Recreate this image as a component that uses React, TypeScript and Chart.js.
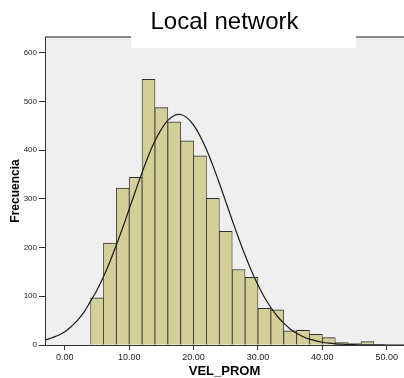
import React, { useEffect, useRef } from "react";
import { Chart, registerables } from "chart.js";

Chart.register(...registerables);

// ---- Data ----
const TITLE = "Local network";
const X_LABEL = "VEL_PROM";
const Y_LABEL = "Frecuencia";

// histogram bins (width 2), centres and counts
const BIN_CENTERS = [5, 7, 9, 11, 13, 15, 17, 19, 21, 23, 25, 27, 29, 31, 33, 35, 37, 39, 41, 43, 45, 47, 49];
const COUNTS = [97, 209, 322, 344, 545, 487, 458, 419, 388, 301, 233, 155, 139, 75, 72, 29, 30, 22, 15, 5, 3, 7, 1];

// fitted normal curve
const CURVE_X = [-3, -2, -1, 0, 1, 2, 3, 4, 5, 6, 7, 8, 9, 10, 11, 12, 13, 14, 15, 16, 17, 18, 19, 20, 21, 22, 23, 24, 25, 26, 27, 28, 29, 30, 31, 32, 33, 34, 35, 36, 37, 38, 39, 40, 41, 42, 43, 44, 45, 46, 47, 48, 49, 50, 51, 52, 53];
const CURVE_Y = [10, 15, 20, 27, 38, 51, 68, 90, 113, 140, 171, 205, 241, 279, 317, 354, 389, 419, 443, 461, 471, 473, 466, 451, 429, 401, 368, 332, 294, 256, 219, 184, 152, 123, 98, 77, 59, 45, 33, 24, 17, 12, 8.4, 5.7, 3.8, 2.5, 1.6, 1.0, 0.6, 0.4, 0.2, 0.1, 0.07, 0.04, 0.02, 0.01, 0];

const X_TICKS = [0, 10, 20, 30, 40, 50];
const Y_TICKS = [0, 100, 200, 300, 400, 500, 600];

const FONT = "'Liberation Sans', Arial, Helvetica, sans-serif";

const framePlugin = {
  id: "spssFrame",
  beforeDraw(chart: any) {
    const { ctx, chartArea: a } = chart;
    ctx.save();
    ctx.fillStyle = "#EFEFEF";
    ctx.fillRect(a.left, a.top, a.right - a.left, a.bottom - a.top);
    ctx.strokeStyle = "#8a8a8a";
    ctx.lineWidth = 2;
    ctx.beginPath();
    ctx.moveTo(a.left, a.top);
    ctx.lineTo(a.right, a.top);
    ctx.stroke();
    // white title box overlapping the plot frame
    ctx.fillStyle = "#ffffff";
    ctx.fillRect(131, 0, 225, 48);
    ctx.restore();
  },
};

export default function App() {
  const ref = useRef<HTMLCanvasElement | null>(null);

  useEffect(() => {
    if (!ref.current) return;
    Chart.defaults.font.family = FONT;
    const chart = new Chart(ref.current, {
      type: "bar",
      data: {
        datasets: [
          {
            type: "line",
            label: "Normal",
            data: CURVE_X.map((x, i) => ({ x, y: CURVE_Y[i] })),
            borderColor: "#1a1a1a",
            borderWidth: 1.2,
            pointRadius: 0,
            tension: 0.4,
            fill: false,
            order: 1,
          } as any,
          {
            type: "bar",
            label: "Frecuencia",
            data: BIN_CENTERS.map((x, i) => ({ x, y: COUNTS[i] })),
            backgroundColor: "#D4CF98",
            borderColor: "#2e2e2e",
            borderWidth: { top: 1, left: 0.8, right: 0.8, bottom: 0 },
            barPercentage: 1,
            categoryPercentage: 1,
            order: 2,
          } as any,
        ],
      },
      options: {
        responsive: false,
        animation: false,
        devicePixelRatio: 1,
        layout: { padding: 0 },
        plugins: {
          legend: { display: false },
          tooltip: { enabled: false },
          title: {
            display: true,
            text: TITLE,
            fullSize: false,
            color: "#000",
            font: { family: FONT, size: 24, weight: "normal", lineHeight: 1.2 },
            padding: { top: 7.5, bottom: 0.7 },
          },
        },
        scales: {
          x: {
            type: "linear",
            min: -3.08,
            max: 52.68,
            offset: false,
            afterBuildTicks: (s: any) => {
              s.ticks = X_TICKS.map((v) => ({ value: v }));
            },
            afterFit: (s: any) => {
              s.height = 33;
            },
            grid: { drawOnChartArea: false, offset: false, drawTicks: true, tickLength: 5, color: "#333" },
            border: { display: true, color: "#333", width: 1 },
            ticks: {
              padding: 2,
              autoSkip: false,
              maxRotation: 0,
              color: "#222",
              font: { family: FONT, size: 9 },
              callback: (v: any) => Number(v).toFixed(2),
            },
            title: {
              display: true,
              text: X_LABEL,
              color: "#000",
              font: { family: FONT, size: 13, weight: "bold", lineHeight: 1 },
              padding: { top: 0, bottom: 0 },
            },
          },
          y: {
            type: "linear",
            min: 0,
            max: 632,
            afterBuildTicks: (s: any) => {
              s.ticks = Y_TICKS.map((v) => ({ value: v }));
            },
            afterFit: (s: any) => {
              s.width = 45;
            },
            grid: { drawOnChartArea: false, drawTicks: true, tickLength: 6, color: "#333" },
            border: { display: true, color: "#333", width: 1 },
            ticks: {
              padding: 2,
              color: "#222",
              font: { family: FONT, size: 8 },
            },
            title: {
              display: true,
              text: Y_LABEL,
              color: "#000",
              font: { family: FONT, size: 12, weight: "bold", lineHeight: 1.2 },
              padding: { top: 8, bottom: 0 },
            },
          },
        },
      } as any,
      plugins: [framePlugin],
    });
    return () => chart.destroy();
  }, []);

  return (
    <div style={{ position: "fixed", left: 0, top: 0, width: 404, height: 378, background: "#fff" }}>
      <canvas ref={ref} width={404} height={378} style={{ display: "block", width: 404, height: 378 }} />
    </div>
  );
}
